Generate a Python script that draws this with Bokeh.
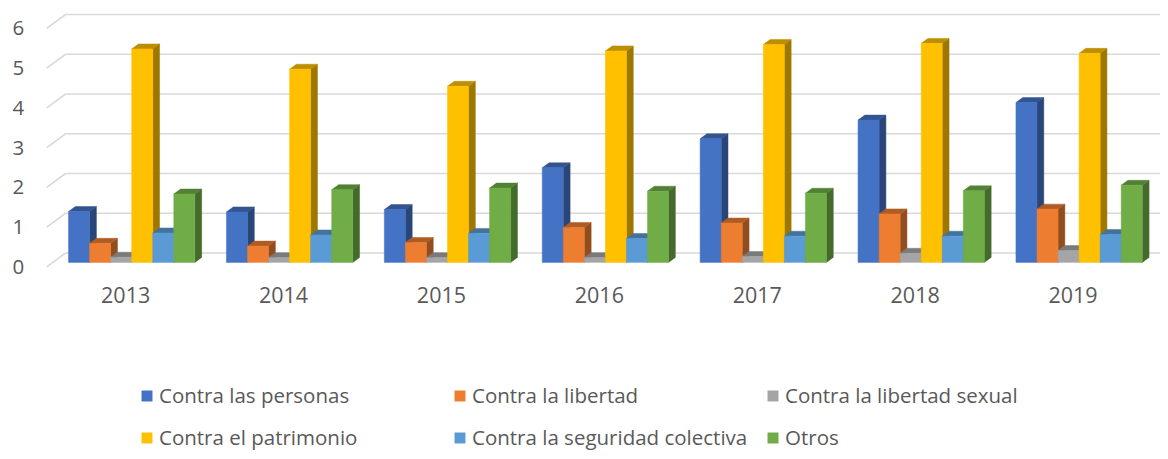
import numpy as np
from bokeh.plotting import figure
from bokeh.models import Range1d, Legend, LegendItem, ColumnDataSource
from bokeh.core.properties import value
from bokeh.embed import file_html
from bokeh.resources import INLINE

# ---------------- data ----------------
years = ["2013", "2014", "2015", "2016", "2017", "2018", "2019"]
series = ["Contra las personas", "Contra la libertad", "Contra la libertad sexual",
          "Contra el patrimonio", "Contra la seguridad colectiva", "Otros"]
personas = [1.28, 1.27, 1.33, 2.38, 3.11, 3.58, 4.02]
libertad = [0.48, 0.41, 0.50, 0.88, 0.99, 1.22, 1.34]
libertad_sexual = [0.13, 0.12, 0.12, 0.12, 0.15, 0.23, 0.30]
patrimonio = [5.37, 4.86, 4.43, 5.32, 5.48, 5.51, 5.26]
seguridad = [0.74, 0.69, 0.73, 0.60, 0.66, 0.66, 0.70]
otros = [1.72, 1.83, 1.87, 1.79, 1.74, 1.80, 1.94]
y_ticks = [0, 1, 2, 3, 4, 5, 6]

values = [personas, libertad, libertad_sexual, patrimonio, seguridad, otros]
colors = ["#4472C4", "#ED7D31", "#A5A5A5", "#FFC000", "#5B9BD5", "#70AD47"]

# ---------------- layout ----------------
W, H = 1160, 451
SLOT = 157.9      # px per category
X0 = 46.2         # canvas px of front plane left edge
Y0 = 266.3        # canvas px of front plane zero
UNIT = 39.75      # px per value unit
TXT = "#595959"
FONT = "Open Sans"

p = figure(width=W, height=H, output_backend="svg", toolbar_location=None,
           x_axis_type=None, y_axis_type=None, min_border=0,
           x_range=Range1d(-X0 / SLOT, (W - X0) / SLOT),
           y_range=Range1d(-(H - Y0) / UNIT, Y0 / UNIT))
p.outline_line_color = None
p.background_fill_color = "white"
p.border_fill_color = "white"

# depth of the floor (front plane -> back wall) in data units
ddx = 18.9 / SLOT
ddy = 13.8 / UNIT
f0, f1 = 0.32, 0.68  # bar depth placement

GRID = "#D9D9D9"
yt = np.array(y_ticks, dtype=float)
# back wall gridlines
p.segment(x0=[ddx] * len(yt), y0=yt + ddy, x1=[(W - X0) / SLOT] * len(yt), y1=yt + ddy,
          line_color=GRID, line_width=1.6)
# side wall diagonals
p.segment(x0=[0] * len(yt), y0=yt, x1=[ddx] * len(yt), y1=yt + ddy,
          line_color=GRID, line_width=1.6)


def shade(hexcol, k):
    h = hexcol.lstrip("#")
    r, g, b = (int(h[i:i + 2], 16) for i in (0, 2, 4))
    return "#%02X%02X%02X" % (int(r * k), int(g * k), int(b * k))


n = len(years)
bw = 0.8 / len(series)
front_renderers = []
for j, (vals, col) in enumerate(zip(values, colors)):
    v = np.array(vals, dtype=float)
    xl = np.arange(n) + 0.1 + j * bw
    xr = xl + bw
    # side faces
    side_xs = [[a + f0 * ddx, a + f1 * ddx, a + f1 * ddx, a + f0 * ddx] for a in xr]
    side_ys = [[f0 * ddy, f1 * ddy, t + f1 * ddy, t + f0 * ddy] for t in v]
    p.patches(side_xs, side_ys, fill_color=shade(col, 0.62), line_color=shade(col, 0.62),
              line_width=0.5)
    # top faces
    top_xs = [[a + f0 * ddx, b + f0 * ddx, b + f1 * ddx, a + f1 * ddx] for a, b in zip(xl, xr)]
    top_ys = [[t + f0 * ddy, t + f0 * ddy, t + f1 * ddy, t + f1 * ddy] for t in v]
    p.patches(top_xs, top_ys, fill_color=shade(col, 0.74), line_color=shade(col, 0.74),
              line_width=0.5)
    # front faces
    src = ColumnDataSource(dict(left=xl + f0 * ddx, right=xr + f0 * ddx,
                                bottom=np.full(n, f0 * ddy), top=v + f0 * ddy))
    r = p.quad(left="left", right="right", bottom="bottom", top="top", source=src,
               fill_color=col, line_color=col, line_width=0.5)
    front_renderers.append(r)

# y tick labels on front plane
p.text(x=[0] * len(y_ticks), y=y_ticks, text=[str(t) for t in y_ticks],
       x_offset=-22.4, text_align="right", text_baseline="middle",
       text_font=value(FONT), text_font_size="20.5px", text_color=TXT)

# category labels
p.text(x=np.arange(n) + 0.5, y=[0] * n, text=years, y_offset=28.5,
       text_align="center", text_baseline="middle",
       text_font=value(FONT), text_font_size="21.5px", text_color=TXT)

# legends: three columns of two rows
cols = [(0, 3), (1, 4), (2, 5)]
col_x = [140, 453, 766]
for (a, b), lx in zip(cols, col_x):
    leg = Legend(items=[LegendItem(label=series[a], renderers=[front_renderers[a]]),
                        LegendItem(label=series[b], renderers=[front_renderers[b]])],
                 location=(lx, 0), orientation="vertical",
                 glyph_width=13, glyph_height=13, label_standoff=6,
                 spacing=14, padding=0, margin=0,
                 border_line_color=None, background_fill_alpha=0,
                 label_text_font=FONT, label_text_font_size="20.5px",
                 label_text_color=TXT)
    p.add_layout(leg)

open("out.html", "w").write(file_html(p, INLINE))
